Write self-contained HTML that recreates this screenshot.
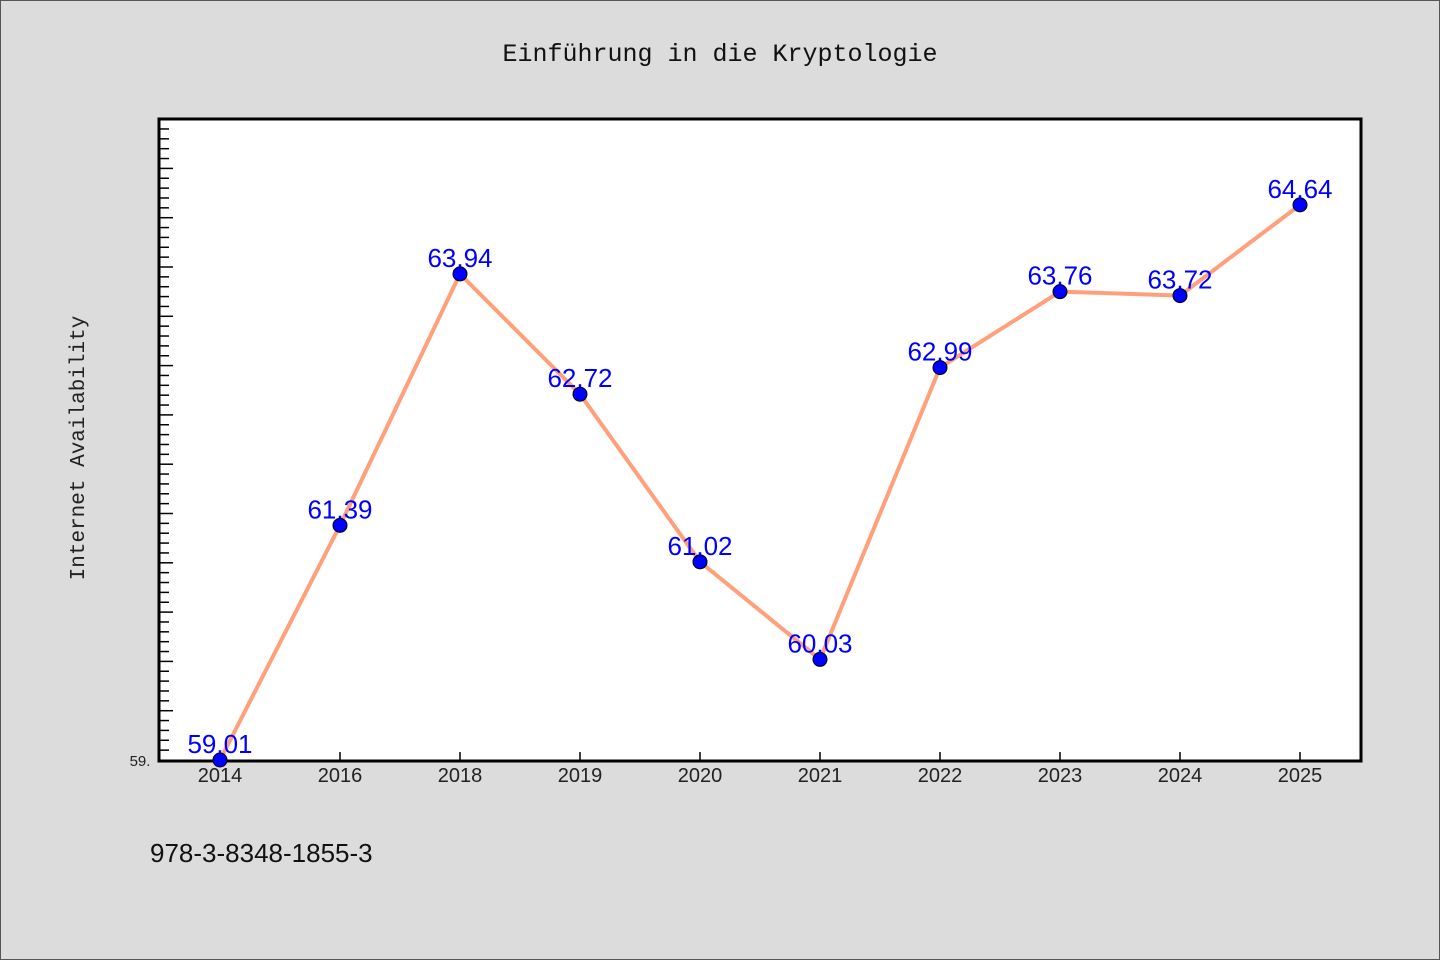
<!DOCTYPE html>
<html><head><meta charset="utf-8"><style>
body{margin:0;background:#dcdcdc;}
svg{display:block;font-family:"Liberation Sans","Noto Sans CJK SC",sans-serif;}
</style></head><body>
<svg width="1440" height="960">
<rect x="0.5" y="0.5" width="1439" height="959" fill="#dcdcdc" stroke="#555"/>
<text x="720" y="61" text-anchor="middle" font-size="25" font-family="Liberation Mono, monospace" fill="#111">Einführung in die Kryptologie</text>
<rect x="159" y="119" width="1202" height="642" fill="#fff" stroke="#000" stroke-width="3"/>
<g id="yticks"></g>
<g id="xticks"></g>
<text transform="translate(84,448) rotate(-90)" text-anchor="middle" font-size="21" font-family="Liberation Mono, monospace" fill="#222">Internet Availability</text>
<text x="140" y="766" text-anchor="middle" font-size="15" fill="#222">59.</text>
<g id="series"></g>
<text x="150" y="862" font-size="26" fill="#111">978-3-8348-1855-3</text>
</svg>
<script>
const categories=["2014","2016","2018","2019","2020","2021","2022","2023","2024","2025"];
const values=[59.01,61.39,63.94,62.72,61.02,60.03,62.99,63.76,63.72,64.64];
const labels=["59.01","61.39","63.94","62.72","61.02","60.03","62.99","63.76","63.72","64.64"];
const ns="http://www.w3.org/2000/svg";
const yMin=59.01,pxPer=98.6,yBase=760;
const y=v=>yBase-(v-yMin)*pxPer;
const x=i=>220+i*120;
function mk(t,a,p){const e=document.createElementNS(ns,t);for(const k in a)e.setAttribute(k,a[k]);p.appendChild(e);return e;}
const yt=document.getElementById('yticks');
for(let k=1;k<=65;k++){const yy=yBase-k*pxPer*0.1;if(yy<122)break;
const t=mk('line',{x1:160,x2:k%5==0?173:169,y1:yy,y2:yy,stroke:'#000','stroke-width':1.5},yt);

}
const xt=document.getElementById('xticks');
categories.forEach((c,i)=>{const l=mk('line',{x1:x(i),x2:x(i),y1:760,y2:752,stroke:'#000','stroke-width':1.5},xt);


const t=mk('text',{x:x(i),y:782,'text-anchor':'middle','font-size':20,fill:'#222'},xt);t.textContent=c;

});
const s=document.getElementById('series');
const line=mk('polyline',{points:values.map((v,i)=>x(i)+','+y(v)).join(' '),fill:'none',stroke:'#ffa07a','stroke-width':4,'stroke-linejoin':'round'},s);


values.forEach((v,i)=>{const c=mk('circle',{cx:x(i),cy:y(v),r:7,fill:'#0000ff',stroke:'#000','stroke-width':1},s);


const t=mk('text',{x:x(i),y:y(v)-7,'text-anchor':'middle','font-size':26,fill:'#0000ff'},s);t.textContent=labels[i];

});
</script>
</body></html>
